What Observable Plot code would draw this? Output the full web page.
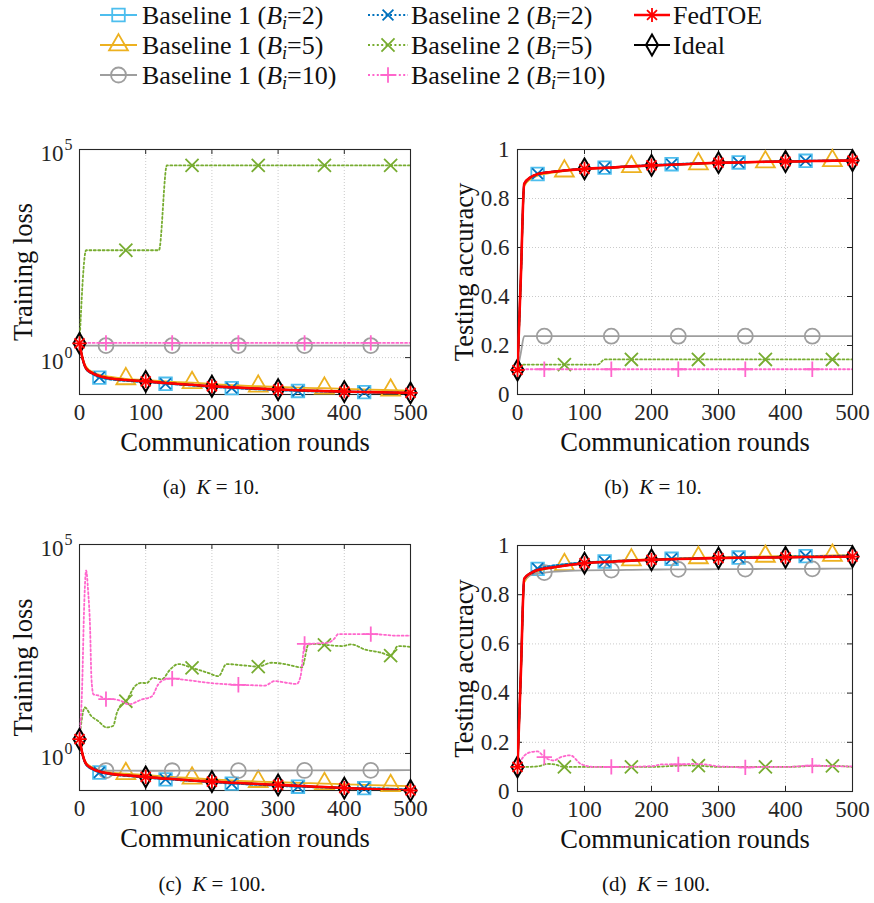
<!DOCTYPE html>
<html><head><meta charset="utf-8">
<script src="https://cdn.jsdelivr.net/npm/d3@7"></script>
<script src="https://cdn.jsdelivr.net/npm/@observablehq/plot@0.6"></script>
<style>
body{margin:0;background:#fff;}
#root{position:relative;width:874px;height:903px;font-family:"Liberation Serif",serif;color:#111;}
.panel{position:absolute;}
.cap{position:absolute;font-size:21px;transform:translate(-50%,-50%);white-space:nowrap;}
</style></head>
<body><div id="root"></div>
<script>
// ---------- tick definitions ----------
const X_TICKS = [0,100,200,300,400,500];
const X_GRID = [100,200,300,400];
const ACC_TICKS = [0,0.2,0.4,0.6,0.8,1];
const ACC_TICK_LABELS = ["0","0.2","0.4","0.6","0.8","1"];
const ACC_GRID = [0.2,0.4,0.6,0.8];
const LOSS_TICKS = [1,1e5];
const LOSS_TICK_BASE = ["10","10"];
const LOSS_TICK_EXP = ["0","5"];
const LOSS_GRID = [1];

// ---------- series names ----------
const SERIES_KEYS = ["b1_2","b1_5","b1_10","b2_2","b2_5","b2_10","ideal","fedtoe"];
const SERIES_NAMES = ["Baseline 1","Baseline 1","Baseline 1","Baseline 2","Baseline 2","Baseline 2","Ideal","FedTOE"];
const SERIES_B = ["2","5","10","2","5","10",null,null];

// ---------- communication-round grid and marker rounds ----------
const rounds = [0,5,10,20,30,40,50,70,100,130,140,150,170,200,230,240,270,300,330,340,370,400,430,440,470,500];
const markRoundsSquare = [30,130,230,330,430];
const markRoundsTri = [70,170,270,370,470];
const markRoundsCirc = [40,140,240,340,440];
const markRoundsDiam = [0,100,200,300,400,500];

// ---------- (a) K=10, training loss ----------
const a_fedtoe = [2.2,0.9,0.55,0.42,0.36,0.33,0.31,0.29,0.27,0.245,0.24,0.233,0.222,0.205,0.193,0.19,0.18,0.171,0.164,0.162,0.157,0.153,0.149,0.148,0.145,0.142];
const a_ideal  = [2.2,0.9,0.55,0.42,0.36,0.33,0.31,0.29,0.27,0.245,0.24,0.233,0.222,0.205,0.193,0.19,0.18,0.171,0.164,0.162,0.157,0.153,0.149,0.148,0.145,0.142];
const a_b1_2   = [2.2,0.85,0.52,0.4,0.33,0.31,0.295,0.275,0.26,0.235,0.23,0.225,0.213,0.198,0.185,0.182,0.173,0.165,0.158,0.156,0.152,0.149,0.148,0.147,0.144,0.14];
const a_b2_2   = [2.2,0.86,0.53,0.4,0.335,0.31,0.295,0.275,0.26,0.236,0.231,0.225,0.213,0.198,0.186,0.182,0.173,0.165,0.158,0.156,0.152,0.149,0.148,0.147,0.144,0.14];
const a_b1_5   = [2.2,0.95,0.6,0.45,0.39,0.36,0.34,0.31,0.29,0.268,0.262,0.256,0.25,0.232,0.218,0.214,0.205,0.197,0.19,0.188,0.184,0.178,0.172,0.17,0.165,0.16];
const a_b1_10  = [2.2,1.95,1.95,1.95,1.95,1.95,1.95,1.95,1.95,1.95,1.95,1.95,1.95,1.95,1.95,1.95,1.95,1.95,1.95,1.95,1.95,1.95,1.95,1.95,1.95,1.95];
const a_b2_10  = [2.2,2.25,2.25,2.25,2.25,2.25,2.25,2.25,2.25,2.25,2.25,2.25,2.25,2.25,2.25,2.25,2.25,2.25,2.25,2.25,2.25,2.25,2.25,2.25,2.25,2.25];
const a_b2_5_rounds = [0,10,70,120,132,170,270,370,470,500];
const a_b2_5   = [2.2,380,380,380,41500,41500,41500,41500,41500,41500];

// ---------- (b) K=10, testing accuracy ----------
const b_fedtoe = [0.1,0.48,0.86,0.888,0.9,0.905,0.908,0.914,0.921,0.925,0.926,0.928,0.931,0.935,0.938,0.939,0.943,0.946,0.947,0.948,0.95,0.951,0.952,0.953,0.954,0.955];
const b_ideal  = [0.1,0.48,0.86,0.888,0.9,0.905,0.908,0.914,0.921,0.925,0.926,0.928,0.931,0.935,0.938,0.939,0.943,0.946,0.947,0.948,0.95,0.951,0.952,0.953,0.954,0.955];
const b_b1_2   = [0.1,0.47,0.855,0.886,0.9,0.905,0.909,0.915,0.922,0.926,0.927,0.929,0.932,0.937,0.94,0.941,0.944,0.946,0.947,0.948,0.95,0.952,0.954,0.954,0.955,0.956];
const b_b2_2   = [0.1,0.47,0.856,0.886,0.901,0.906,0.909,0.915,0.922,0.926,0.927,0.929,0.932,0.937,0.94,0.941,0.944,0.946,0.947,0.948,0.95,0.952,0.954,0.954,0.955,0.956];
const b_b1_5   = [0.1,0.46,0.85,0.88,0.893,0.9,0.905,0.912,0.92,0.924,0.925,0.927,0.93,0.934,0.937,0.938,0.941,0.944,0.946,0.947,0.949,0.951,0.952,0.953,0.954,0.955];
const b_b1_10  = [0.1,0.17,0.238,0.238,0.238,0.238,0.238,0.238,0.238,0.238,0.238,0.238,0.238,0.238,0.238,0.238,0.238,0.238,0.238,0.238,0.238,0.238,0.238,0.238,0.238,0.238];
const b_b2_10  = [0.1,0.103,0.103,0.103,0.103,0.103,0.103,0.103,0.103,0.103,0.103,0.103,0.103,0.103,0.103,0.103,0.103,0.103,0.103,0.103,0.103,0.103,0.103,0.103,0.103,0.103];
const b_b2_5_rounds = [0,5,70,120,130,170,270,370,470,500];
const b_b2_5   = [0.1,0.122,0.122,0.122,0.143,0.143,0.143,0.143,0.143,0.143];

// ---------- (c) K=100, training loss ----------
const c_fedtoe = [2.2,0.9,0.56,0.43,0.37,0.34,0.32,0.3,0.275,0.25,0.245,0.238,0.226,0.213,0.2,0.196,0.186,0.177,0.168,0.165,0.157,0.149,0.142,0.14,0.135,0.13];
const c_ideal  = [2.2,0.9,0.56,0.43,0.37,0.34,0.32,0.3,0.275,0.25,0.245,0.238,0.226,0.213,0.2,0.196,0.186,0.177,0.168,0.165,0.157,0.149,0.142,0.14,0.135,0.13];
const c_b1_2   = [2.2,0.85,0.53,0.41,0.35,0.33,0.31,0.29,0.265,0.24,0.236,0.23,0.22,0.205,0.19,0.187,0.177,0.168,0.16,0.158,0.153,0.15,0.148,0.147,0.143,0.138];
const c_b2_2   = [2.2,0.86,0.54,0.41,0.352,0.33,0.31,0.29,0.266,0.241,0.236,0.23,0.22,0.205,0.19,0.187,0.177,0.168,0.16,0.158,0.153,0.15,0.148,0.147,0.143,0.138];
const c_b1_5   = [2.2,0.95,0.6,0.46,0.4,0.37,0.35,0.33,0.305,0.28,0.274,0.268,0.257,0.24,0.226,0.222,0.213,0.205,0.198,0.196,0.19,0.183,0.177,0.175,0.17,0.165];
const c_b1_10  = [2.2,0.9,0.55,0.43,0.4,0.39,0.388,0.387,0.386,0.386,0.386,0.387,0.387,0.388,0.389,0.389,0.39,0.391,0.392,0.392,0.393,0.394,0.395,0.395,0.397,0.4];
const c_b2_10_rounds = [0,4,7,10,13,16,18,21,30,40,50,63,74,94,109,119,129,140,150,174,200,215,240,260,280,295,310,328,334,338,340,360,376,385,391,420,440,460,477,500];
const c_b2_10  = [2.4,40,3200,24000,7800,1000,65,26,24,20,20,18,15,19.5,23,45,59,62,60,54,48,46,44,43,42,54,50,46,71,250,420,430,450,560,720,720,720,690,660,660];
const c_b2_5_rounds = [0,8,18,28,41,51,56,63,70,84,94,101,111,124,137,149,170,194,210,222,245,270,290,310,336,346,356,370,396,411,431,456,470,481,500];
const c_b2_5   = [2.4,12.6,7.8,6.0,4.2,4.6,8.9,14.8,17.8,41,49,48,65,59,102,138,112,85,71,138,129,120,148,138,115,407,417,398,372,407,309,257,219,372,355];

// ---------- (d) K=100, testing accuracy ----------
const d_fedtoe = [0.1,0.48,0.865,0.888,0.9,0.906,0.91,0.918,0.928,0.933,0.934,0.936,0.938,0.942,0.944,0.945,0.947,0.949,0.95,0.95,0.951,0.952,0.953,0.953,0.954,0.955];
const d_ideal  = [0.1,0.48,0.865,0.888,0.9,0.906,0.91,0.918,0.928,0.933,0.934,0.936,0.938,0.942,0.944,0.945,0.947,0.949,0.95,0.95,0.951,0.952,0.953,0.953,0.954,0.955];
const d_b1_2   = [0.1,0.48,0.86,0.89,0.905,0.912,0.917,0.924,0.931,0.935,0.936,0.938,0.94,0.943,0.946,0.947,0.948,0.95,0.951,0.952,0.953,0.955,0.957,0.957,0.958,0.959];
const d_b2_2   = [0.1,0.48,0.861,0.89,0.906,0.912,0.917,0.924,0.931,0.935,0.936,0.938,0.94,0.943,0.946,0.947,0.948,0.95,0.951,0.952,0.953,0.955,0.957,0.957,0.958,0.959];
const d_b1_5   = [0.1,0.47,0.85,0.882,0.895,0.903,0.91,0.922,0.93,0.935,0.937,0.938,0.941,0.944,0.947,0.948,0.95,0.952,0.953,0.954,0.956,0.957,0.958,0.958,0.96,0.961];
const d_b1_10  = [0.1,0.48,0.86,0.88,0.887,0.89,0.893,0.896,0.899,0.9,0.9,0.9,0.901,0.902,0.903,0.903,0.903,0.904,0.904,0.904,0.905,0.905,0.905,0.905,0.906,0.906];
const d_b2_10_rounds = [0,10,20,30,40,54,65,79,94,113,140,150,200,215,240,260,280,300,320,340,370,400,440,470,500];
const d_b2_10  = [0.1,0.145,0.16,0.163,0.14,0.126,0.14,0.147,0.113,0.1,0.1,0.1,0.103,0.11,0.11,0.112,0.11,0.102,0.1,0.098,0.1,0.1,0.105,0.103,0.102];
const d_b2_5_rounds = [0,10,30,45,55,70,100,150,170,200,250,270,300,350,370,400,450,470,500];
const d_b2_5   = [0.1,0.1,0.102,0.112,0.11,0.1,0.1,0.1,0.1,0.1,0.106,0.105,0.1,0.1,0.1,0.1,0.104,0.104,0.1];

// ---------- styles ----------
const STYLE = {
  b1_2:  {color:"#4DBEEE", dash:null,   width:1.8, symbols:["square2"],  r:[8],    mw:1.8, markers:markRoundsSquare},
  b1_5:  {color:"#EDB120", dash:null,   width:1.8, symbols:["triangle2"],r:[9],    mw:1.8, markers:markRoundsTri},
  b1_10: {color:"#9E9E9E", dash:null,   width:1.8, symbols:["circle"],   r:[7.5],  mw:1.8, markers:markRoundsCirc},
  b2_2:  {color:"#0072BD", dash:"2,2.4",width:1.8, symbols:["times"],    r:[5],    mw:1.8, markers:markRoundsSquare},
  b2_5:  {color:"#77AC30", dash:"2,2.4",width:1.8, symbols:["times"],    r:[6],    mw:1.8, markers:markRoundsTri},
  b2_10: {color:"#FF66CC", dash:"2,2.4",width:1.8, symbols:["plus"],     r:[5],    mw:1.8, markers:markRoundsCirc},
  ideal: {color:"#000000", dash:null,   width:2,   symbols:["diamond"],  r:[6.3],  mw:2,   markers:markRoundsDiam},
  fedtoe:{color:"#FF0000", dash:null,   width:2.6, symbols:["plus","times"], r:[4.6,4.6], mw:1.8, markers:markRoundsDiam}
};
const SYMBOLS = {square2:d3.symbolSquare2, triangle2:d3.symbolTriangle2, circle:d3.symbolCircle, times:d3.symbolTimes, plus:d3.symbolPlus, diamond:d3.symbolDiamond};

const PANELS = [
  {left:0,   top:130, ml:79, mr:27, mt:19, mb:81, kind:"loss", yLabel:"Training loss", yLabelDx:-56,
   series:{b1_2:[rounds,a_b1_2], b1_5:[rounds,a_b1_5], b1_10:[rounds,a_b1_10], b2_2:[rounds,a_b2_2], b2_5:[a_b2_5_rounds,a_b2_5], b2_10:[rounds,a_b2_10], ideal:[rounds,a_ideal], fedtoe:[rounds,a_fedtoe]}},
  {left:437, top:130, ml:80, mr:22, mt:19, mb:81, kind:"acc", yLabel:"Testing accuracy", yLabelDx:-53,
   series:{b1_2:[rounds,b_b1_2], b1_5:[rounds,b_b1_5], b1_10:[rounds,b_b1_10], b2_2:[rounds,b_b2_2], b2_5:[b_b2_5_rounds,b_b2_5], b2_10:[rounds,b_b2_10], ideal:[rounds,b_ideal], fedtoe:[rounds,b_fedtoe]}},
  {left:0,   top:526, ml:79, mr:27, mt:18, mb:81, kind:"loss", yLabel:"Training loss", yLabelDx:-56,
   series:{b1_2:[rounds,c_b1_2], b1_5:[rounds,c_b1_5], b1_10:[rounds,c_b1_10], b2_2:[rounds,c_b2_2], b2_5:[c_b2_5_rounds,c_b2_5], b2_10:[c_b2_10_rounds,c_b2_10], ideal:[rounds,c_ideal], fedtoe:[rounds,c_fedtoe]}},
  {left:437, top:526, ml:80, mr:22, mt:19, mb:80, kind:"acc", yLabel:"Testing accuracy", yLabelDx:-53,
   series:{b1_2:[rounds,d_b1_2], b1_5:[rounds,d_b1_5], b1_10:[rounds,d_b1_10], b2_2:[rounds,d_b2_2], b2_5:[d_b2_5_rounds,d_b2_5], b2_10:[d_b2_10_rounds,d_b2_10], ideal:[rounds,d_ideal], fedtoe:[rounds,d_fedtoe]}}
];

const W = 437, H = 345, AX = "#262626", SERIF = "Liberation Serif";
const root = document.getElementById("root");

for (const P of PANELS) {
  const innerW = W - P.ml - P.mr, innerH = H - P.mt - P.mb;
  const rows = [];
  for (const k of SERIES_KEYS) {
    const [xs, ys] = P.series[k];
    xs.forEach((x, i) => rows.push({key:k, x, y:ys[i], mark:STYLE[k].markers.includes(x)}));
  }
  const isLog = P.kind === "loss";
  const marks = [
    Plot.gridX(X_GRID, {stroke:"#c4c4c4", strokeOpacity:1, strokeWidth:0.9, strokeDasharray:"1,2"}),
    Plot.gridY(isLog ? LOSS_GRID : ACC_GRID, {stroke:"#c4c4c4", strokeOpacity:1, strokeWidth:0.9, strokeDasharray:"1,2"}),
    Plot.tickX(X_TICKS, {x:d=>d, insetTop:innerH-5, stroke:AX}),
    Plot.tickX(X_TICKS, {x:d=>d, insetBottom:innerH-5, stroke:AX}),
    Plot.tickY(isLog ? LOSS_TICKS : ACC_TICKS, {y:d=>d, insetRight:innerW-5, stroke:AX}),
    Plot.tickY(isLog ? LOSS_TICKS : ACC_TICKS, {y:d=>d, insetLeft:innerW-5, stroke:AX}),
    Plot.frame({stroke:AX, strokeWidth:1.1}),
    Plot.axisX(X_TICKS, {tickSize:0, tickPadding:9, tickFormat:d=>String(d), fill:AX, label:null, fontFamily:SERIF, fontSize:23}),
    Plot.text(["Communication rounds"], {frameAnchor:"bottom", textAnchor:"middle", dy:56, fontSize:26.5, fontFamily:SERIF, fill:"#111"}),
    Plot.text([P.yLabel], {frameAnchor:"left", textAnchor:"middle", dx:P.yLabelDx, rotate:-90, fontSize:26.5, fontFamily:SERIF, fill:"#111"})
  ];
  if (isLog) {
    marks.push(Plot.text(LOSS_TICKS, {y:d=>d, frameAnchor:"left", text:(d,i)=>LOSS_TICK_BASE[i], textAnchor:"end", dx:-16, dy:4, fontSize:23, fontFamily:SERIF, fill:AX}));
    marks.push(Plot.text(LOSS_TICKS, {y:d=>d, frameAnchor:"left", text:(d,i)=>LOSS_TICK_EXP[i], textAnchor:"start", dx:-15, dy:-5, fontSize:16, fontFamily:SERIF, fill:AX}));
  } else {
    marks.push(Plot.axisY(ACC_TICKS, {tickSize:0, tickPadding:8, tickFormat:d=>ACC_TICK_LABELS[ACC_TICKS.indexOf(d)], fill:AX, label:null, fontFamily:SERIF, fontSize:23}));
  }
  for (const k of SERIES_KEYS) {
    const s = STYLE[k];
    const data = rows.filter(d => d.key === k);
    marks.push(Plot.line(data, {x:"x", y:"y", stroke:s.color, strokeWidth:s.width, strokeDasharray:s.dash, curve:"monotone-x", clip:true}));
    s.symbols.forEach((sym, j) => {
      marks.push(Plot.dot(data.filter(d => d.mark), {x:"x", y:"y", symbol:sym, r:s.r[j], stroke:s.color, fill:"none", strokeWidth:s.mw}));
    });
  }
  const chart = Plot.plot({
    width:W, height:H, marginLeft:P.ml, marginRight:P.mr, marginTop:P.mt, marginBottom:P.mb,
    x:{domain:[0,500], label:null},
    y: isLog ? {type:"log", domain:[0.13,1e5], axis:null, label:null} : {domain:[0,1], axis:null, label:null},
    style:{fontFamily:SERIF, fontSize:"23px", background:"transparent", overflow:"visible"},
    marks
  });
  const div = document.createElement("div");
  div.className = "panel";
  div.style.left = P.left + "px"; div.style.top = P.top + "px";
  div.appendChild(chart);
  root.appendChild(div);
}

// ---------- legend ----------
const LEG_COLS = [{x1:100,x2:137,tx:142},{x1:368,x2:408,tx:411},{x1:634,x2:670,tx:673}];
const LEG_ROWS = [15,45,75];
const LEG_POS = {b1_2:[0,0], b1_5:[0,1], b1_10:[0,2], b2_2:[1,0], b2_5:[1,1], b2_10:[1,2], fedtoe:[2,0], ideal:[2,1]};
const lsvg = d3.select(root).append("svg").attr("width",874).attr("height",100)
  .attr("font-family",SERIF)
  .style("position","absolute").style("left","0px").style("top","0px");
SERIES_KEYS.forEach((k, idx) => {
  const s = STYLE[k], [c, r] = LEG_POS[k], col = LEG_COLS[c], y = LEG_ROWS[r];
  const g = lsvg.append("g");
  g.append("line").attr("x1",col.x1).attr("x2",col.x2).attr("y1",y).attr("y2",y)
    .attr("stroke",s.color).attr("stroke-width",s.width).attr("stroke-dasharray",s.dash);
  s.symbols.forEach((sym, j) => {
    g.append("path").attr("d", d3.symbol(SYMBOLS[sym], Math.PI*s.r[j]*s.r[j])())
      .attr("transform",`translate(${(col.x1+col.x2)/2},${y})`)
      .attr("fill","none").attr("stroke",s.color).attr("stroke-width",s.mw);
  });
  const t = g.append("text").attr("x",col.tx).attr("y",y+8.5).attr("font-size",26)
    .attr("font-family",SERIF).attr("fill","#111");
  if (SERIES_B[idx] === null) {
    t.text(SERIES_NAMES[idx]);
  } else {
    t.append("tspan").text(SERIES_NAMES[idx] + " (");
    t.append("tspan").attr("font-style","italic").text("B");
    t.append("tspan").attr("font-size",18).attr("font-style","italic").attr("dy",5).text("i");
    t.append("tspan").attr("dy",-5).text("=" + SERIES_B[idx] + ")");
  }
});

// ---------- captions ----------
const CAPTIONS = [["(a)","10",211,487],["(b)","10",653,487],["(c)","100",212,884],["(d)","100",656,884]];
for (const [lab, k, x, y] of CAPTIONS) {
  const d = document.createElement("div");
  d.className = "cap";
  d.style.left = x + "px"; d.style.top = y + "px";
  d.innerHTML = `${lab}&nbsp;&nbsp;<i>K</i> = ${k}.`;
  root.appendChild(d);
}
</script>
</body></html>
